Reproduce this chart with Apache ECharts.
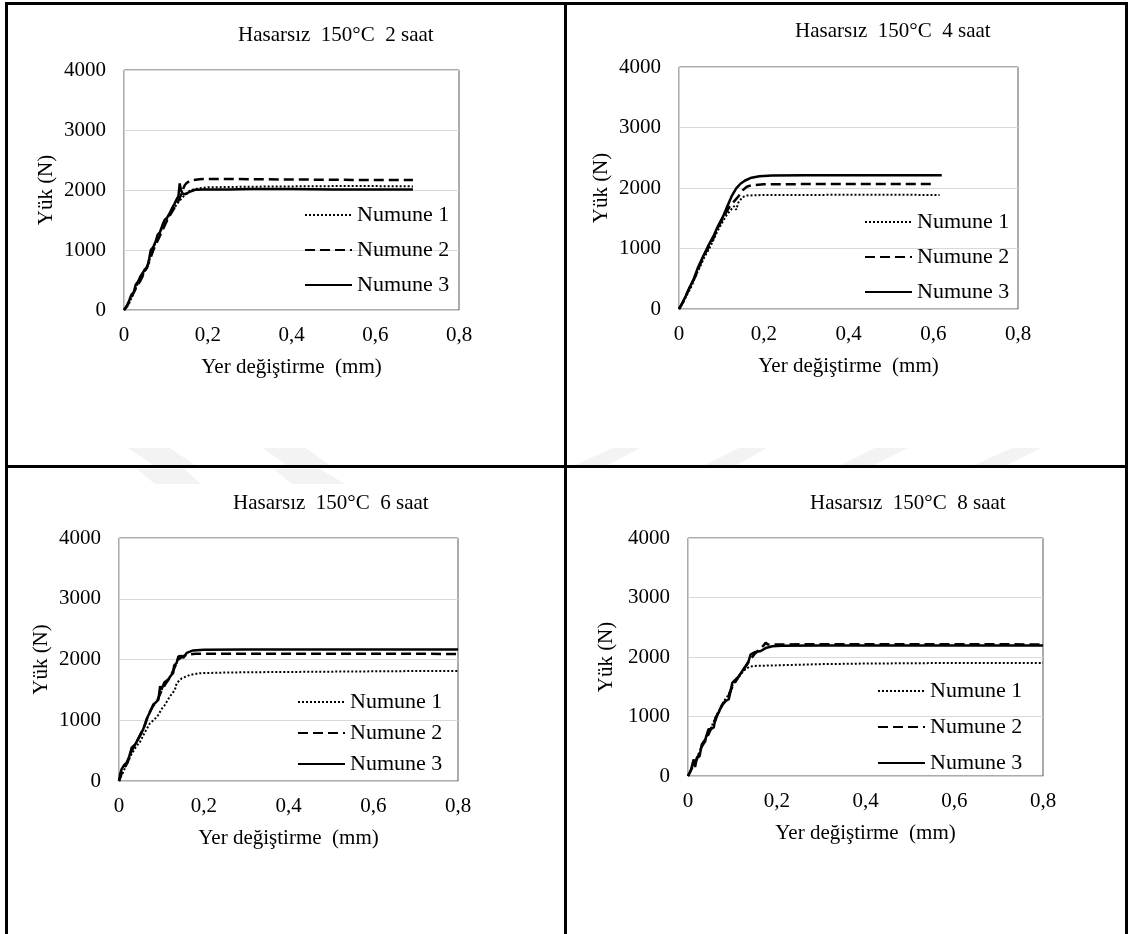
<!DOCTYPE html>
<html>
<head>
<meta charset="utf-8">
<script src="https://cdn.jsdelivr.net/npm/echarts@6/dist/echarts.min.js"></script>
<style>
  html, body { margin: 0; padding: 0; background: #fff; }
  #chart { width: 1129px; height: 934px; }
</style>
</head>
<body>
<div id="chart"></div>
<script>
// panel titles and axis labels
var titles = ['Hasarsız  150°C  2 saat', 'Hasarsız  150°C  4 saat', 'Hasarsız  150°C  6 saat', 'Hasarsız  150°C  8 saat']
var seriesNames = ['Numune 1', 'Numune 2', 'Numune 3']
var xTicks = [0, 0.2, 0.4, 0.6, 0.8]
var yTicks = [0, 1000, 2000, 3000, 4000]

// 2 saat
var h2n1 = [[0,0],[0.01,80],[0.02,230],[0.03,400],[0.04,520],[0.05,650],[0.06,820],[0.07,1050],[0.08,1180],[0.09,1350],[0.1,1480],[0.11,1600],[0.12,1700],[0.13,1800],[0.14,1880],[0.15,1950],[0.16,2000],[0.18,2030],[0.2,2045],[0.3,2055],[0.4,2060],[0.5,2065],[0.6,2065],[0.69,2060]]
var h2n2 = [[0,0],[0.01,100],[0.02,250],[0.03,380],[0.04,500],[0.05,640],[0.06,800],[0.07,1000],[0.08,1150],[0.09,1300],[0.1,1450],[0.11,1580],[0.12,1700],[0.13,1820],[0.135,1900],[0.14,2000],[0.145,2080],[0.15,2120],[0.16,2160],[0.18,2180],[0.22,2185],[0.3,2180],[0.4,2175],[0.5,2170],[0.6,2165],[0.69,2165]]
var h2n3 = [[0,0],[0.005,40],[0.012,150],[0.018,260],[0.023,290],[0.028,420],[0.034,480],[0.039,560],[0.045,620],[0.05,680],[0.055,700],[0.06,850],[0.064,1000],[0.07,1050],[0.076,1150],[0.08,1250],[0.086,1300],[0.092,1420],[0.097,1500],[0.103,1540],[0.108,1600],[0.115,1700],[0.12,1760],[0.126,1850],[0.13,1900],[0.133,2110],[0.136,2000],[0.14,1940],[0.146,1930],[0.152,1950],[0.16,1980],[0.17,2005],[0.19,2010],[0.25,2010],[0.3,2015],[0.4,2015],[0.5,2010],[0.6,2010],[0.69,2010]]

// 4 saat
var h4n1 = [[0,0],[0.01,110],[0.02,250],[0.03,380],[0.04,560],[0.05,700],[0.06,860],[0.07,980],[0.08,1120],[0.09,1280],[0.1,1400],[0.11,1530],[0.12,1620],[0.13,1700],[0.135,1640],[0.14,1760],[0.15,1850],[0.16,1875],[0.2,1885],[0.3,1885],[0.4,1888],[0.5,1888],[0.615,1885]]
var h4n2 = [[0,0],[0.01,120],[0.02,280],[0.03,420],[0.04,560],[0.05,740],[0.06,900],[0.07,1020],[0.08,1150],[0.09,1320],[0.1,1450],[0.11,1580],[0.12,1700],[0.13,1780],[0.14,1860],[0.15,1960],[0.16,2020],[0.17,2045],[0.2,2060],[0.3,2065],[0.4,2065],[0.5,2065],[0.6,2065]]
var h4n3 = [[0,0],[0.005,60],[0.015,200],[0.026,370],[0.035,500],[0.045,690],[0.057,870],[0.068,1030],[0.081,1200],[0.092,1370],[0.104,1530],[0.114,1700],[0.124,1860],[0.135,1995],[0.145,2070],[0.155,2120],[0.171,2170],[0.19,2195],[0.22,2205],[0.3,2210],[0.4,2210],[0.5,2210],[0.62,2210]]

// 6 saat
var h6n1 = [[0,0],[0.01,150],[0.02,300],[0.03,450],[0.04,560],[0.05,650],[0.06,790],[0.073,950],[0.083,1010],[0.093,1090],[0.1,1180],[0.108,1250],[0.12,1390],[0.132,1500],[0.136,1610],[0.148,1690],[0.167,1745],[0.19,1775],[0.25,1785],[0.3,1790],[0.4,1795],[0.5,1800],[0.6,1805],[0.7,1810],[0.8,1812]]
var h6n2 = [[0,0],[0.01,200],[0.02,300],[0.03,500],[0.04,620],[0.05,760],[0.06,900],[0.07,1100],[0.08,1230],[0.09,1320],[0.1,1480],[0.11,1600],[0.12,1700],[0.13,1850],[0.14,2000],[0.15,2050],[0.16,2080],[0.18,2095],[0.3,2095],[0.5,2095],[0.7,2095],[0.8,2090]]
var h6n3 = [[0,0],[0.003,120],[0.006,190],[0.012,260],[0.018,300],[0.024,400],[0.03,550],[0.038,600],[0.045,690],[0.052,780],[0.057,850],[0.062,950],[0.065,1015],[0.072,1120],[0.081,1260],[0.088,1300],[0.093,1340],[0.097,1560],[0.1,1500],[0.107,1620],[0.116,1670],[0.123,1740],[0.128,1780],[0.13,1900],[0.136,1945],[0.14,2050],[0.146,2060],[0.152,2030],[0.16,2110],[0.175,2150],[0.2,2160],[0.3,2165],[0.4,2165],[0.5,2165],[0.6,2165],[0.7,2165],[0.8,2165]]

// 8 saat
var h8n1 = [[0,0],[0.01,150],[0.02,300],[0.03,480],[0.04,620],[0.05,780],[0.06,950],[0.07,1100],[0.08,1250],[0.09,1350],[0.1,1520],[0.11,1620],[0.12,1720],[0.13,1800],[0.14,1840],[0.15,1850],[0.2,1860],[0.3,1880],[0.4,1890],[0.5,1895],[0.6,1900],[0.7,1900],[0.8,1900]]
var h8n2 = [[0,0],[0.01,150],[0.02,280],[0.03,480],[0.04,600],[0.05,760],[0.06,900],[0.07,1100],[0.08,1220],[0.09,1320],[0.1,1500],[0.11,1620],[0.12,1740],[0.13,1840],[0.14,1950],[0.15,2050],[0.16,2120],[0.17,2190],[0.175,2240],[0.18,2210],[0.2,2210],[0.3,2215],[0.4,2215],[0.5,2215],[0.6,2215],[0.7,2215],[0.8,2210]]
var h8n3 = [[0,0],[0.006,85],[0.01,200],[0.013,280],[0.016,150],[0.02,310],[0.026,330],[0.031,530],[0.035,500],[0.039,615],[0.046,785],[0.052,790],[0.058,815],[0.062,980],[0.07,1080],[0.077,1200],[0.085,1260],[0.092,1290],[0.1,1570],[0.107,1620],[0.115,1680],[0.122,1760],[0.13,1850],[0.136,1920],[0.141,2040],[0.15,2080],[0.164,2100],[0.175,2150],[0.19,2180],[0.21,2190],[0.3,2195],[0.4,2195],[0.5,2195],[0.6,2195],[0.7,2195],[0.8,2195]]

var panelData = [[h2n1, h2n2, h2n3], [h4n1, h4n2, h4n3], [h6n1, h6n2, h6n3], [h8n1, h8n2, h8n3]]

// layout of each panel (pixels)
var grids = [
  { left: 124, top: 70, width: 335, height: 240 },
  { left: 679, top: 67, width: 339, height: 242 },
  { left: 119, top: 538, width: 339, height: 243 },
  { left: 688, top: 538, width: 355, height: 238 }
]
var titlePos = [[238, 25], [795, 21], [233, 493], [810, 493]]
var legendPos = [[304, 204, 13], [864, 211, 13], [297, 691, 9], [877, 680, 14]]
var lineTypes = [[2, 2], [10, 5], 'solid']
var lineWidths = [2, 2.5, 2.5]

var font = 'Liberation Serif, Times New Roman, serif'

var chart = echarts.init(document.getElementById('chart'))

var option = {
  backgroundColor: '#fff',
  animation: false,
  title: [],
  legend: [],
  grid: [],
  xAxis: [],
  yAxis: [],
  series: [],
  graphic: []
}

for (let p = 0; p < 4; p++) {
  option.title.push({
    text: titles[p],
    left: titlePos[p][0],
    top: titlePos[p][1],
    padding: 0,
    textStyle: { fontFamily: font, fontSize: 21, fontWeight: 'normal', color: '#000' }
  })
  option.legend.push({
    data: seriesNames,
    orient: 'vertical',
    left: legendPos[p][0],
    top: legendPos[p][1],
    itemGap: legendPos[p][2],
    itemWidth: 47,
    itemHeight: 12,
    padding: 0,
    selectedMode: false,
    itemStyle: { opacity: 0, borderWidth: 0 },
    textStyle: { fontFamily: font, fontSize: 22, color: '#000' }
  })
  option.grid.push({
    left: grids[p].left,
    top: grids[p].top,
    width: grids[p].width,
    height: grids[p].height,
    show: true,
    borderColor: '#595959',
    borderWidth: 1,
    backgroundColor: 'transparent'
  })
  option.xAxis.push({
    type: 'value',
    gridIndex: p,
    min: xTicks[0],
    max: xTicks[xTicks.length - 1],
    interval: 0.2,
    name: 'Yer değiştirme  (mm)',
    nameLocation: 'middle',
    nameGap: 47,
    nameTextStyle: { fontFamily: font, fontSize: 21, color: '#000' },
    z: 3,
    axisLine: { lineStyle: { color: '#d0d0d0', width: 1 } },
    axisTick: { show: false },
    splitLine: { show: false },
    axisLabel: {
      margin: 15,
      fontFamily: font,
      fontSize: 21,
      color: '#000',
      formatter: function (v) { return String(Math.round(v * 10) / 10).replace('.', ',') }
    }
  })
  option.yAxis.push({
    type: 'value',
    gridIndex: p,
    min: yTicks[0],
    max: yTicks[yTicks.length - 1],
    interval: 1000,
    name: 'Yük (N)',
    nameLocation: 'middle',
    nameGap: p === 3 ? 71 : 67,
    nameTextStyle: { fontFamily: font, fontSize: 21, color: '#000' },
    z: 3,
    axisLine: { show: true, lineStyle: { color: '#d0d0d0', width: 1 } },
    axisTick: { show: false },
    splitLine: { lineStyle: { color: '#d9d9d9', width: 1 } },
    axisLabel: {
      margin: 18,
      fontFamily: font,
      fontSize: 21,
      color: '#000',
      formatter: function (v) { return String(v) }
    }
  })
  for (let s = 0; s < 3; s++) {
    option.series.push({
      name: seriesNames[s],
      type: 'line',
      xAxisIndex: p,
      yAxisIndex: p,
      data: panelData[p][s],
      symbol: 'none',
      showSymbol: false,
      z: 4 + s,
      lineStyle: { color: '#000', width: lineWidths[s], type: lineTypes[s] },
      itemStyle: { color: '#000' }
    })
  }
}

// faint watermark bands between the panels
var bands = [
  [[128,448],[170,448],[196,466],[155,466]],
  [[263,448],[306,448],[331,466],[288,466]],
  [[137,469],[184,469],[201,484],[155,484]],
  [[274,469],[320,469],[345,484],[292,484]],
  [[613,448],[640,448],[606,466],[573,466]],
  [[739,448],[767,448],[735,466],[703,466]],
  [[875,448],[908,448],[872,466],[839,466]],
  [[1012,448],[1041,448],[1005,466],[972,466]]
]
bands.forEach(function (b) {
  option.graphic.push({ type: 'polygon', z: -10, shape: { points: b }, style: { fill: '#f3f3f3' }, silent: true })
})

// table borders
var borders = [
  [5, 2, 3, 932],
  [5, 2, 1122, 3],
  [1125, 2, 3, 932],
  [564, 2, 3, 932],
  [5, 465, 1122, 3]
]
borders.forEach(function (r) {
  option.graphic.push({ type: 'rect', z: 100, shape: { x: r[0], y: r[1], width: r[2], height: r[3] }, style: { fill: '#000' }, silent: true })
})

chart.setOption(option)
</script>
</body>
</html>
